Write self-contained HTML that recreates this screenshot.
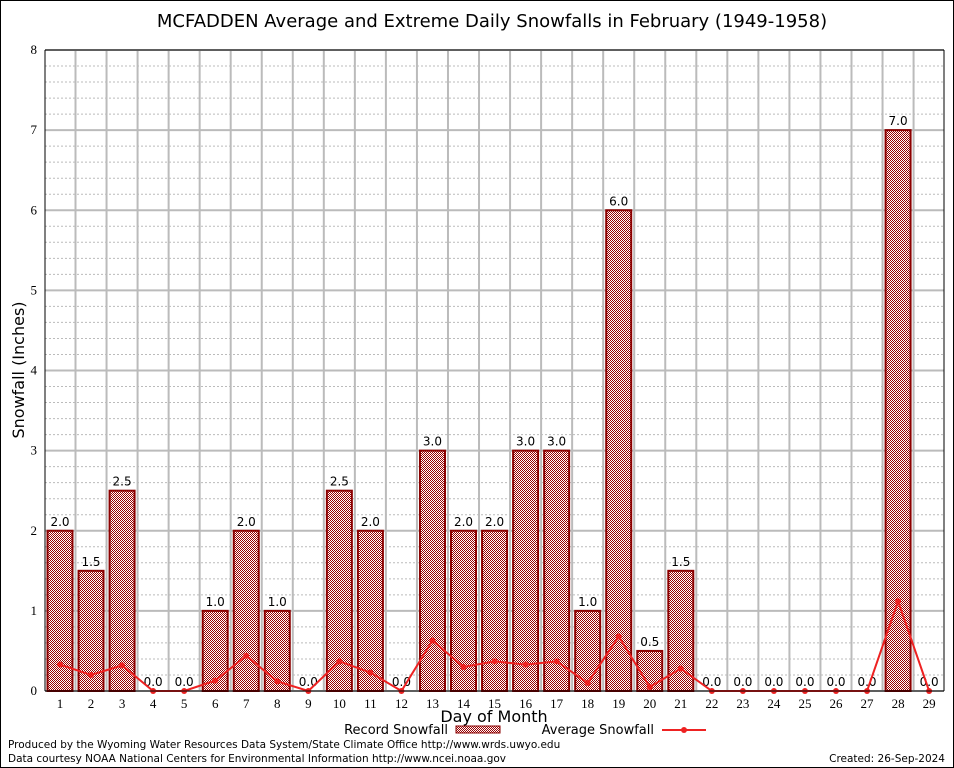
<!DOCTYPE html>
<html><head><meta charset="utf-8"><style>
body{margin:0;background:#fff;font-family:"DejaVu Sans","Liberation Sans",sans-serif}
svg{display:block}
.serif{font-family:"Liberation Serif",serif}
</style></head><body>
<svg id="c" width="954" height="768" xmlns="http://www.w3.org/2000/svg">
<defs>
<pattern id="chk" width="2" height="2" patternUnits="userSpaceOnUse">
<rect width="2" height="2" fill="#fff"/><rect width="1" height="1" fill="#990000"/><rect x="1" y="1" width="1" height="1" fill="#990000"/>
</pattern>
</defs>
<rect x="0.5" y="0.5" width="953" height="767" fill="#fff" stroke="#000"/>
<g id="grid"></g>
<g id="bars"></g>
<g id="line"></g>
<g id="axes"></g>
<text x="492" y="27" font-size="18" text-anchor="middle">MCFADDEN Average and Extreme Daily Snowfalls in February (1949-1958)</text>
<text x="24" y="370" font-size="16" text-anchor="middle" transform="rotate(-90 24 370)">Snowfall (Inches)</text>
<text x="494" y="722" font-size="16" text-anchor="middle">Day of Month</text>
<g>
<text x="448" y="734" font-size="13" text-anchor="end">Record Snowfall</text>
<rect x="456" y="726" width="44" height="7" fill="url(#chk)" stroke="#8b0000"/>
</g>
<g>
<text x="654" y="734" font-size="13" text-anchor="end">Average Snowfall</text>
<line x1="662" y1="730" x2="706" y2="730" stroke="#ee2222" stroke-width="2"/>
<circle cx="684" cy="730" r="3" fill="#ee2222"/>
</g>
<text x="8" y="748" font-size="10.5">Produced by the Wyoming Water Resources Data System/State Climate Office http://www.wrds.uwyo.edu</text>
<text x="8" y="762" font-size="10.5">Data courtesy NOAA National Centers for Environmental Information http://www.ncei.noaa.gov</text>
<text x="945" y="762" font-size="10.5" text-anchor="end">Created: 26-Sep-2024</text>
</svg>
<script>
const days=[1,2,3,4,5,6,7,8,9,10,11,12,13,14,15,16,17,18,19,20,21,22,23,24,25,26,27,28,29];
const recordValues=[2.0,1.5,2.5,0,0,1.0,2.0,1.0,0,2.5,2.0,0,3.0,2.0,2.0,3.0,3.0,1.0,6.0,0.5,1.5,0,0,0,0,0,0,7.0,0];
const averageValues=[0.33,0.2,0.32,0,0,0.13,0.44,0.12,0,0.37,0.23,0,0.63,0.3,0.37,0.33,0.37,0.1,0.68,0.05,0.28,0,0,0,0,0,0,1.12,0];
const yTicks=[0,1,2,3,4,5,6,7,8];
const NS="http://www.w3.org/2000/svg";
const L=45,R=944,T=50,B=691;
const xs=d=>60+(d-1)*31.04;
const ys=v=>B-(v/8)*(B-T);
function mk(tag,attrs,parent,txt){const e=document.createElementNS(NS,tag);for(const k in attrs)e.setAttribute(k,attrs[k]);if(txt!==undefined)e.textContent=txt;parent.appendChild(e);return e;}
const grid=document.getElementById('grid'),bars=document.getElementById('bars'),line=document.getElementById('line'),axes=document.getElementById('axes');
for(let v=0;v<8;v+=0.2){if(Math.abs(v-Math.round(v))<1e-6)continue;
 const g=mk('line',{x1:L,x2:R,y1:ys(v),y2:ys(v),stroke:'#bbb','stroke-dasharray':'2,2','stroke-width':1},grid);
 
 }
yTicks.forEach(v=>{const g=mk('line',{x1:L,x2:R,y1:ys(v),y2:ys(v),stroke:'#bbb','stroke-width':2},grid);
 
 
 const t=mk('text',{x:L-8,y:ys(v)+4,'font-size':13,'text-anchor':'end','class':'serif'},axes,String(v));
 
 });
days.forEach(d=>{if(d<29){const g=mk('line',{x1:xs(d)+15.5,x2:xs(d)+15.5,y1:T,y2:B,stroke:'#bbb','stroke-width':2},grid);
 
 }
 const t=mk('text',{x:xs(d),y:B+17,'font-size':13,'text-anchor':'middle','class':'serif'},axes,String(d));
 
 });
mk('line',{x1:L,x2:L,y1:T,y2:B,stroke:'#000'},axes);
mk('line',{x1:L,x2:R,y1:B,y2:B,stroke:'#000'},axes);
mk('line',{x1:R,x2:R,y1:T,y2:B,stroke:'#000'},axes);
mk('line',{x1:L,x2:R,y1:T,y2:T,stroke:'#000'},axes);
recordValues.forEach((v,i)=>{const x=xs(days[i]);
 if(v>0){const r=mk('rect',{x:x-12.5,y:ys(v),width:25,height:B-ys(v),fill:'url(#chk)',stroke:'#8b0000','stroke-width':2},bars);
 
 }
 const t=mk('text',{x:x,y:ys(v)-5,'font-size':12,'text-anchor':'middle'},bars,v.toFixed(1));
 
 });
const pts=averageValues.map((v,i)=>xs(days[i])+','+ys(v)).join(' ');
const pl=mk('polyline',{points:pts,fill:'none',stroke:'#ee2222','stroke-width':2},line);


averageValues.forEach((v,i)=>{const c=mk('circle',{cx:xs(days[i]),cy:ys(v),r:3,fill:'#ee2222'},line);
 
 });
</script>
</body></html>
